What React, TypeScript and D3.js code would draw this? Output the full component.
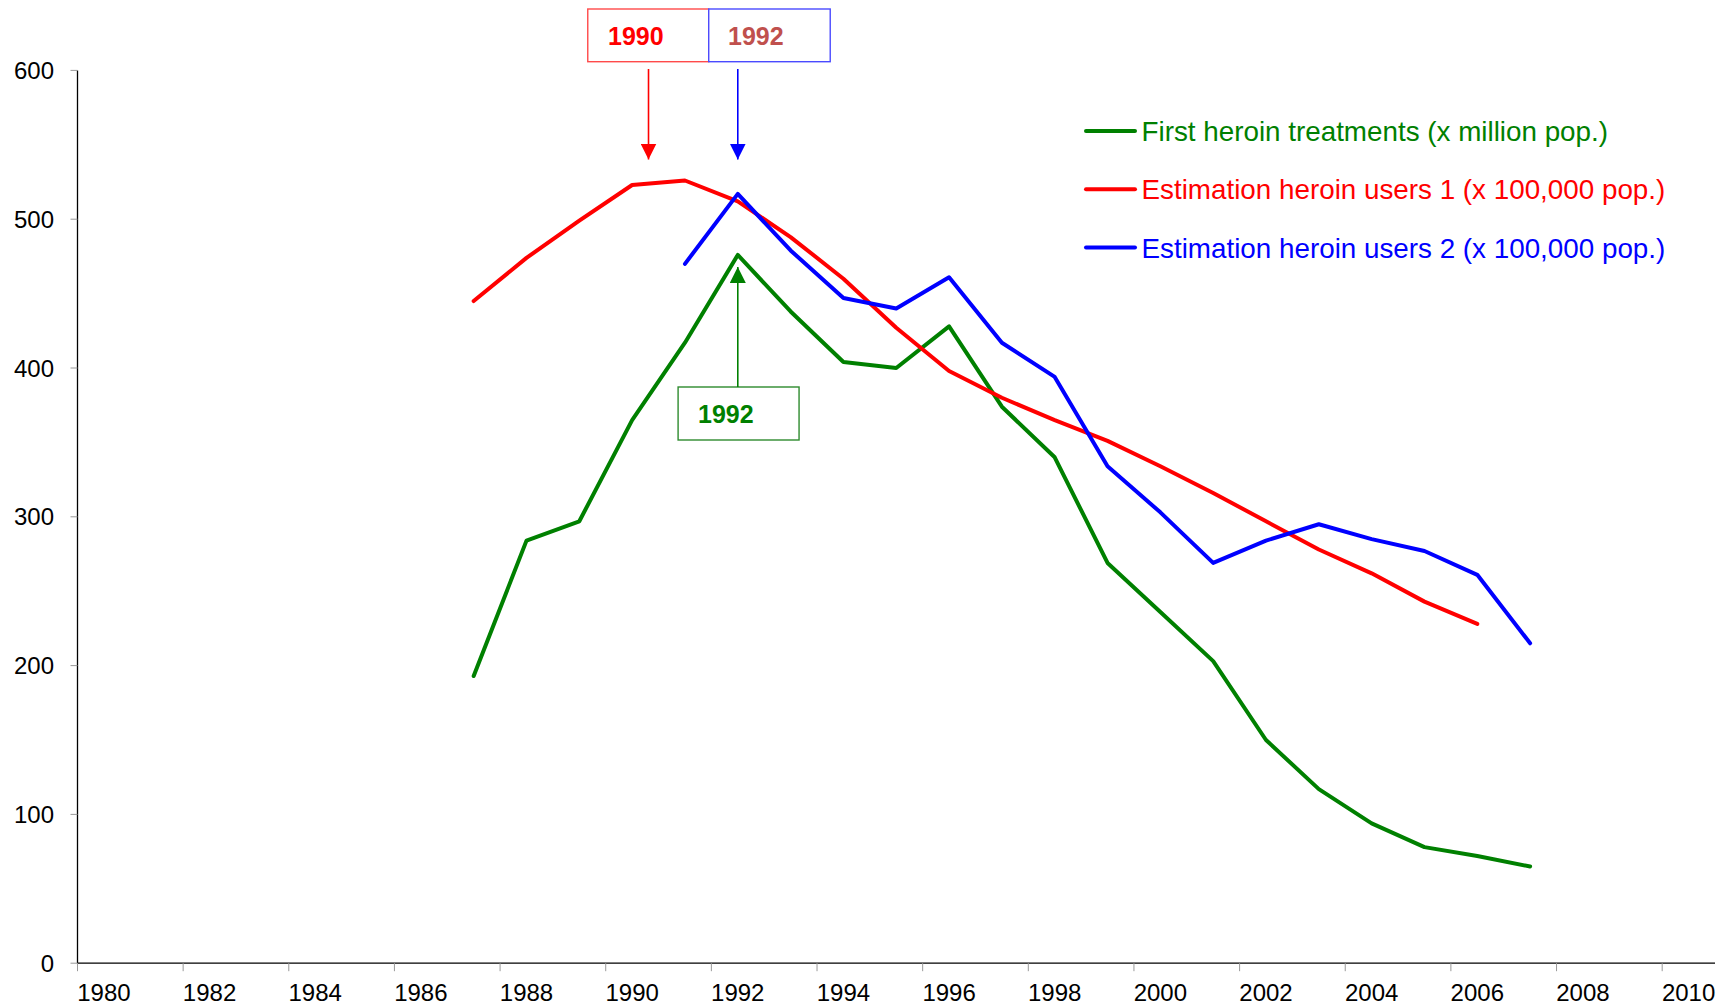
import React from "react";
import * as d3 from "d3";

const firstYears = d3.range(1987, 2008);
const firstTreatments = [193, 284, 297, 365, 417, 476, 438, 404, 400, 428, 374, 340, 269, 236, 203, 150, 117, 94, 78, 72, 65];

const users1Years = d3.range(1987, 2007);
const users1 = [445, 474, 499, 523, 526, 512, 488, 460, 427, 398, 380, 365, 351, 334, 316, 297, 278, 262, 243, 228];

const users2Years = d3.range(1991, 2008);
const users2 = [470, 517, 479, 447, 440, 461, 417, 394, 334, 303, 269, 284, 295, 285, 277, 261, 215];

const yearTicks = d3.range(1980, 2011, 2);
const valueTicks = [0, 100, 200, 300, 400, 500, 600];

const seriesNames = [
  "First heroin treatments (x million pop.)",
  "Estimation heroin users 1 (x 100,000 pop.)",
  "Estimation heroin users 2 (x 100,000 pop.)",
];
const seriesColors = ["#008000", "#ff0000", "#0000ff"];

const FONT = "'Liberation Sans', Arial, Helvetica, sans-serif";

export default function App() {
  const stageRef = React.useRef<SVGSVGElement>(null);
  const width = 1726;
  const height = 1006;

  React.useEffect(() => {
    const svg = d3.select(stageRef.current);
    svg.selectAll("*").remove();

    const x = d3.scaleLinear().domain([1980, 2011]).range([77.5, 1715]);
    const y = d3.scaleLinear().domain([0, 600]).range([963.2, 70.4]);
    const cx = (yr: number) => x(yr + 0.5);

    // axes
    svg.append("line")
      .attr("x1", x(1980)).attr("x2", x(1980))
      .attr("y1", y(600)).attr("y2", y(0))
      .attr("stroke", "#000").attr("stroke-width", 1.3);
    svg.append("line")
      .attr("x1", x(1980)).attr("x2", x(2011))
      .attr("y1", y(0)).attr("y2", y(0))
      .attr("stroke", "#000").attr("stroke-width", 1.3);

    svg.selectAll("line.ytick")
      .data(valueTicks)
      .enter()
      .append("line")
      .attr("class", "ytick")
      .attr("x1", x(1980) - 7).attr("x2", x(1980))
      .attr("y1", d => y(d)).attr("y2", d => y(d))
      .attr("stroke", "#999").attr("stroke-width", 1);
    svg.selectAll("text.ylab")
      .data(valueTicks)
      .enter()
      .append("text")
      .attr("class", "ylab")
      .attr("x", 54)
      .attr("y", d => y(d))
      .attr("dy", "0.36em")
      .attr("text-anchor", "end")
      .style("font-family", FONT)
      .style("font-size", "24px")
      .attr("fill", "#000")
      .text(d => d);

    svg.selectAll("line.xtick")
      .data(yearTicks)
      .enter()
      .append("line")
      .attr("class", "xtick")
      .attr("x1", d => x(d)).attr("x2", d => x(d))
      .attr("y1", y(0)).attr("y2", y(0) + 8)
      .attr("stroke", "#999").attr("stroke-width", 1);
    svg.selectAll("text.xlab")
      .data(yearTicks)
      .enter()
      .append("text")
      .attr("class", "xlab")
      .attr("x", d => cx(d))
      .attr("y", 1001)
      .attr("text-anchor", "middle")
      .style("font-family", FONT)
      .style("font-size", "24px")
      .attr("fill", "#000")
      .text(d => d);

    // series
    const line = d3.line<[number, number]>()
      .x(d => cx(d[0]))
      .y(d => y(d[1]));
    const series: [number, number][][] = [
      firstYears.map((yr, i) => [yr, firstTreatments[i]]),
      users1Years.map((yr, i) => [yr, users1[i]]),
      users2Years.map((yr, i) => [yr, users2[i]]),
    ];
    svg.selectAll("path.series")
      .data(series)
      .enter()
      .append("path")
      .attr("class", "series")
      .attr("d", d => line(d))
      .attr("fill", "none")
      .attr("stroke", (d, i) => seriesColors[i])
      .attr("stroke-width", 4)
      .attr("stroke-linecap", "round")
      .attr("stroke-linejoin", "round");

    // legend
    const legend = svg.append("g").attr("transform", "translate(1084, 131)");
    const ordinals = legend.selectAll("g.legend-ordinal")
      .data(seriesNames)
      .enter()
      .append("g")
      .attr("class", "legend-ordinal")
      .attr("transform", (d, i) => `translate(0, ${i * 58.3})`);
    ordinals.append("line")
      .attr("x1", 2).attr("x2", 51)
      .attr("y1", 0).attr("y2", 0)
      .attr("stroke", (d, i) => seriesColors[i])
      .attr("stroke-width", 4)
      .attr("stroke-linecap", "round");
    ordinals.append("text")
      .attr("x", 57.5)
      .attr("y", 0)
      .attr("dy", "0.36em")
      .style("font-family", FONT)
      .style("font-size", "27.8px")
      .attr("fill", (d, i) => seriesColors[i])
      .text(d => d);

    // annotations
    const defs = svg.append("defs");
    const marker = (id: string, color: string) => {
      defs.append("marker")
        .attr("id", id)
        .attr("viewBox", "0 0 10 10")
        .attr("refX", 10).attr("refY", 5)
        .attr("markerWidth", 10).attr("markerHeight", 10)
        .attr("markerUnits", "strokeWidth")
        .attr("orient", "auto")
        .append("path")
        .attr("d", "M0,0 L10,5 L0,10 Z")
        .attr("fill", color);
    };
    marker("arr-red", "#ff0000");
    marker("arr-blue", "#0000ff");
    marker("arr-green", "#008000");

    const box = (x0: number, x1: number, y0: number, y1: number, stroke: string) =>
      svg.append("rect")
        .attr("x", x0).attr("y", y0)
        .attr("width", x1 - x0).attr("height", y1 - y0)
        .attr("fill", "#fff")
        .attr("stroke", stroke)
        .attr("stroke-width", 1.4);
    const label = (xx: number, yy: number, txt: string, color: string) =>
      svg.append("text")
        .attr("x", xx).attr("y", yy)
        .style("font-family", FONT)
        .style("font-size", "25px")
        .style("font-weight", "bold")
        .attr("fill", color)
        .text(txt);
    const arrow = (xx: number, ya: number, yb: number, color: string, id: string) =>
      svg.append("line")
        .attr("x1", xx).attr("x2", xx)
        .attr("y1", ya).attr("y2", yb)
        .attr("stroke", color)
        .attr("stroke-width", 1.6)
        .attr("marker-end", `url(#${id})`);

    box(x(1989.66), x(1991.95), 9, 61.7, "#ff4a4a");
    box(x(1991.95), x(1994.25), 9, 61.7, "#4a4aff");
    label(608, 45, "1990", "#ff0000");
    label(728, 45, "1992", "#c0504d");
    arrow(x(1990.81), 69, 159.5, "#ff0000", "arr-red");
    arrow(cx(1992), 69, 159.5, "#0000ff", "arr-blue");

    box(x(1991.37), x(1993.66), 387, 440, "#2e8b2e");
    label(698, 423, "1992", "#008000");
    arrow(cx(1992), 387, 267, "#008000", "arr-green");
  }, []);

  return (
    <svg
      ref={stageRef}
      width={width}
      height={height}
      style={{ position: "absolute", left: 0, top: 0, background: "#fff" }}
    ></svg>
  );
}
